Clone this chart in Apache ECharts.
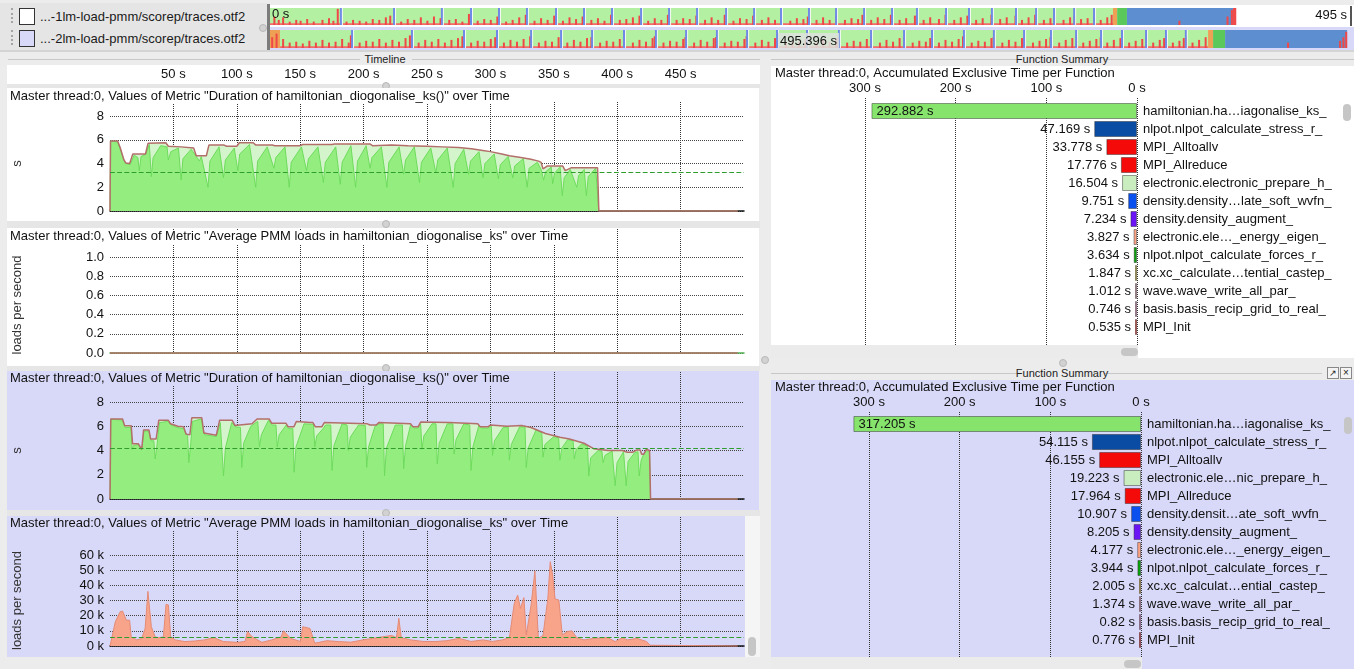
<!DOCTYPE html>
<html><head><meta charset="utf-8">
<script src="https://cdn.jsdelivr.net/npm/echarts@6/dist/echarts.min.js"></script>
<style>
html,body{margin:0;padding:0;width:1354px;height:669px;overflow:hidden;background:#ececec;font-family:'Liberation Sans',Arial,sans-serif;}
.abs{position:absolute;z-index:1;}
.lbl{font-size:13px;line-height:15px;color:#1a1a1a;white-space:nowrap;}
.hdr{font-size:11px;line-height:12px;color:#222;white-space:nowrap;text-align:center;}
.knob{position:absolute;z-index:1;width:6px;height:6px;border-radius:50%;background:#d2d2d2;border:1px solid #b8b8b8;}
.thumb{position:absolute;z-index:1;background:#c6c6c6;border-radius:4px;}
#chart{position:absolute;left:0;top:0;width:1354px;height:669px;z-index:2;}
</style></head>
<body>
<!-- top strip chrome -->
<div class="abs" style="left:0;top:3px;width:267px;height:47px;background:#e5e5e5"></div>
<div class="abs" style="left:11px;top:8px;height:15px;border-left:2px dotted #a4a4a4"></div>
<div class="abs" style="left:11px;top:30px;height:15px;border-left:2px dotted #a4a4a4"></div>
<div class="abs" style="left:19px;top:8px;width:14px;height:15px;background:#fff;border:1px solid #333"></div>
<div class="abs" style="left:19px;top:30px;width:14px;height:15px;background:#d8d8f8;border:1px solid #333"></div>
<div class="abs lbl" style="left:40px;top:9px">...-1lm-load-pmm/scorep/traces.otf2</div>
<div class="abs lbl" style="left:40px;top:31px">...-2lm-load-pmm/scorep/traces.otf2</div>
<div class="knob" style="left:259px;top:24px"></div>
<div class="abs" style="left:267px;top:4px;width:3px;height:46px;background:#7c7c7c"></div>
<div class="abs" style="left:270px;top:5px;width:1084px;height:22px;background:#fff"></div>
<div class="abs" style="left:270px;top:27px;width:1084px;height:23px;background:#d8d8f8"></div>
<div class="abs" style="left:1350px;top:6px;width:2px;height:20px;background:#555"></div>
<div class="abs" style="left:0;top:50px;width:1354px;height:2px;background:#d4d4d4"></div>

<!-- Timeline header -->
<div class="abs" style="left:8px;top:59px;width:352px;height:1px;background:#c8c8c8"></div>
<div class="abs" style="left:412px;top:59px;width:348px;height:1px;background:#c8c8c8"></div>
<div class="abs hdr" style="left:335px;top:53px;width:100px">Timeline</div>

<!-- left panels -->
<div class="abs" style="left:7px;top:65px;width:753px;height:19px;background:#fff"></div>
<div class="abs" style="left:7px;top:84px;width:753px;height:4px;background:#e6e6e6"></div>
<div class="knob" style="left:382px;top:82px"></div>
<div class="abs" style="left:7px;top:88px;width:752px;height:133px;background:#fff"></div>
<div class="abs" style="left:7px;top:221px;width:753px;height:7px;background:#e6e6e6"></div>
<div class="knob" style="left:382px;top:220px"></div>
<div class="abs" style="left:7px;top:228px;width:752px;height:138px;background:#fff"></div>
<div class="abs" style="left:7px;top:366px;width:753px;height:5px;background:#e6e6e6"></div>
<div class="knob" style="left:382px;top:364px"></div>
<div class="abs" style="left:7px;top:371px;width:752px;height:139px;background:#d8d8f8"></div>
<div class="abs" style="left:7px;top:510px;width:753px;height:6px;background:#e6e6e6"></div>
<div class="knob" style="left:382px;top:509px"></div>
<div class="abs" style="left:7px;top:516px;width:738px;height:141px;background:#d8d8f8"></div>
<div class="abs" style="left:745px;top:516px;width:15px;height:141px;background:#f5f5f5"></div>
<div class="thumb" style="left:748px;top:637px;width:8px;height:19px"></div>
<div class="knob" style="left:761px;top:356px"></div>

<!-- right panels -->
<div class="abs" style="left:771px;top:59px;width:250px;height:1px;background:#c8c8c8"></div>
<div class="abs" style="left:1104px;top:59px;width:250px;height:1px;background:#c8c8c8"></div>
<div class="abs hdr" style="left:1012px;top:53px;width:100px">Function Summary</div>
<div class="abs" style="left:771px;top:66px;width:583px;height:279px;background:#fff"></div>
<div class="abs" style="left:771px;top:345px;width:367px;height:13px;background:#ebebeb"></div>
<div class="abs" style="left:1138px;top:345px;width:216px;height:13px;background:#fff"></div>
<div class="thumb" style="left:1121px;top:348px;width:17px;height:8px"></div>
<div class="thumb" style="left:1343px;top:104px;width:8px;height:17px"></div>
<div class="knob" style="left:1059px;top:359px"></div>

<div class="abs" style="left:771px;top:373px;width:250px;height:1px;background:#c8c8c8"></div>
<div class="abs" style="left:1104px;top:373px;width:218px;height:1px;background:#c8c8c8"></div>
<div class="abs hdr" style="left:1012px;top:367px;width:100px">Function Summary</div>
<div class="abs" style="left:1327px;top:367px;width:10px;height:10px;border:1px solid #888;background:#f4f4f4;font-size:9px;line-height:10px;text-align:center;color:#222">&#8599;</div>
<div class="abs" style="left:1340px;top:367px;width:10px;height:10px;border:1px solid #888;background:#f4f4f4;font-size:10px;line-height:10px;text-align:center;color:#222">&#215;</div>
<div class="abs" style="left:771px;top:380px;width:583px;height:277px;background:#d8d8f8"></div>
<div class="abs" style="left:771px;top:657px;width:371px;height:12px;background:#ebebeb"></div>
<div class="abs" style="left:1142px;top:657px;width:212px;height:12px;background:#d8d8f8"></div>
<div class="thumb" style="left:1124px;top:660px;width:17px;height:8px"></div>
<div class="thumb" style="left:1344px;top:417px;width:8px;height:17px"></div>

<div id="chart"></div>
<script>
// ---------------- DATA ----------------
// Overview strip (seconds); blocks: [t0, t1, colourIndex, y0, y1]
const ov1Blocks = [[0,385.6,0,0,1],[0,385.6,4,0,0.1],[385.6,387.5,5,0,1],[387.5,392,1,0,1],[392,440.5,2,0,1],[440.5,442,3,0,1]];
const ov2Blocks = [[0,4.6,5,0,1],[4.6,429.1,0,0,1],[4.6,429.1,4,0,0.1],[429.1,431.4,5,0,1],[431.4,436.9,1,0,1],[436.9,492.7,2,0,1]];
const ov1Seps = [32.9,57.2,79.1,92.4,105.2,118.0,131.3,144.1,156.9,170.2,183.0,195.8,209.1,221.9,234.2,247.0,259.4,272.2,285.0,296.4,309.7,320.2,330.7,341.7,350.9,359.1,368.3,377.4];
const ov2Seps = [38.0,65.4,89.2,104.3,119.9,133.6,147.8,162.4,177.0,190.8,204.9,218.7,232.4,246.1,260.7,275.4,290.5,303.3,317.9,331.6,345.4,357.7,369.2,380.6,390.2,401.2,410.3,419.4];
const ov1Spikes = [[2,0.5],[4,0.3],[6,0.45],[9,0.2],[12,0.3],[14,0.25],[17,0.35],[20,0.2],[24,0.3],[27,0.4],[29,0.25],[31,0.95],[35,0.2],[38,0.3],[41,0.25],[44,0.2],[47,0.35],[50,0.3],[53,0.45],[55,0.55],[60,0.2],[63,0.35],[66,0.3],[69,0.45],[72,0.25],[75,0.5],[78,0.4],[82,0.3],[85,0.35],[88,0.2],[91,0.65],[95,0.25],[98,0.35],[101,0.3],[104,0.5],[108,0.2],[111,0.3],[114,0.45],[117,0.6],[121,0.25],[124,0.4],[127,0.3],[130,0.55],[134,0.25],[137,0.45],[140,0.35],[143,0.5],[147,0.3],[150,0.4],[153,0.25],[156,0.6],[160,0.3],[163,0.35],[166,0.45],[169,0.55],[173,0.25],[176,0.4],[179,0.3],[182,0.6],[186,0.3],[189,0.4],[192,0.35],[195,0.55],[199,0.3],[202,0.45],[205,0.3],[208,0.6],[212,0.25],[215,0.4],[218,0.35],[221,0.55],[225,0.3],[228,0.45],[231,0.3],[234,0.6],[238,0.25],[241,0.4],[244,0.35],[246,0.5],[250,0.3],[253,0.45],[256,0.3],[259,0.55],[263,0.3],[266,0.4],[269,0.35],[271,0.6],[275,0.3],[278,0.45],[281,0.35],[284,0.6],[288,0.3],[291,0.4],[295,0.55],[299,0.3],[302,0.45],[306,0.35],[309,0.6],[313,0.3],[316,0.45],[319,0.55],[323,0.3],[326,0.4],[330,0.6],[334,0.35],[337,0.45],[341,0.55],[344,0.3],[347,0.45],[350,0.6],[354,0.3],[357,0.4],[359,0.55],[363,0.3],[366,0.45],[368,0.55],[371,0.35],[374,0.4],[377,0.5],[380,0.3],[383,0.45],[385,0.6],[416,0.25],[438,0.5],[440,0.9]];
const ov2Spikes = [[1,0.6],[3,0.8],[6,0.5],[9,0.3],[12,0.35],[15,0.25],[18,0.4],[21,0.3],[24,0.45],[27,0.3],[30,0.35],[33,0.5],[36,0.3],[37,0.7],[41,0.3],[44,0.4],[47,0.35],[50,0.5],[53,0.3],[56,0.45],[59,0.35],[62,0.55],[64,0.7],[68,0.3],[71,0.45],[74,0.35],[77,0.5],[80,0.3],[83,0.45],[86,0.55],[88,0.65],[92,0.3],[95,0.4],[98,0.35],[101,0.5],[103,0.6],[107,0.3],[110,0.45],[113,0.35],[116,0.5],[119,0.65],[123,0.3],[126,0.4],[129,0.35],[132,0.6],[136,0.3],[139,0.45],[142,0.35],[145,0.55],[147,0.6],[151,0.3],[154,0.4],[157,0.35],[160,0.5],[162,0.6],[166,0.3],[169,0.45],[172,0.35],[175,0.55],[176,0.65],[180,0.3],[183,0.4],[186,0.35],[189,0.5],[190,0.6],[194,0.3],[197,0.45],[200,0.35],[203,0.55],[204,0.6],[208,0.3],[211,0.4],[214,0.35],[217,0.5],[218,0.65],[222,0.3],[225,0.45],[228,0.35],[231,0.55],[232,0.6],[236,0.3],[239,0.4],[242,0.35],[245,0.5],[246,0.65],[250,0.3],[253,0.45],[256,0.35],[259,0.55],[260,0.6],[264,0.3],[267,0.4],[270,0.35],[273,0.5],[275,0.65],[279,0.3],[282,0.45],[285,0.35],[288,0.55],[290,0.6],[294,0.3],[297,0.4],[300,0.35],[302,0.55],[306,0.3],[309,0.45],[312,0.35],[315,0.5],[317,0.65],[321,0.3],[324,0.4],[327,0.35],[330,0.55],[331,0.6],[335,0.3],[338,0.45],[341,0.35],[344,0.55],[345,0.6],[349,0.3],[352,0.4],[355,0.5],[357,0.6],[361,0.3],[364,0.45],[367,0.55],[369,0.6],[372,0.3],[375,0.4],[378,0.5],[380,0.6],[383,0.3],[386,0.45],[389,0.55],[390,0.6],[393,0.3],[396,0.4],[399,0.5],[401,0.6],[404,0.3],[407,0.45],[409,0.55],[410,0.6],[413,0.3],[416,0.4],[418,0.55],[419,0.6],[422,0.3],[425,0.45],[428,0.6],[465.7,0.3],[489.5,0.4],[491,0.6],[492.3,0.9]];
const ovColors = ['#b3f0a2','#5ac85a','#5d8fd0','#f04a4a','#f26a6a','#eea055'];

// Duration of hamiltonian_diogonalise_ks() [s] -- trace 1
const dur1Max = [[0,0],[0.4,5.9],[6,5.9],[8,5.35],[11,4.3],[12.5,4.05],[15.5,4.0],[18,4.8],[28,4.8],[30,5.7],[44,5.75],[46,5.45],[56,5.4],[66,5.3],[68,4.65],[76,4.65],[78,5.55],[90,5.55],[92,5.45],[100,5.45],[102,5.75],[113,5.75],[115,5.55],[128,5.55],[130,5.5],[150,5.5],[152,5.6],[175,5.6],[177,5.65],[205,5.65],[207,5.5],[222,5.55],[235,5.5],[250,5.45],[262,5.4],[275,5.35],[285,5.25],[294,5.1],[300,5.0],[309,4.8],[315,4.65],[324,4.5],[332,4.35],[338,4.2],[340,4.1],[341.5,3.55],[345,3.8],[357,3.8],[359,3.4],[364,3.65],[384.5,3.65],[385.5,0],[495,0]];
const dur1Avg = [[0,0],[0.5,5.9],[6,5.8],[9,4.9],[12,4.0],[16,3.9],[19,4.7],[22,4.5],[23.1,3.4],[24.5,4.6],[28,4.75],[31,5.6],[32.6,2.9],[34,4.5],[40,5.5],[45,5.4],[46,4.3],[48,5.0],[54,5.3],[56.1,2.6],[57.5,4.4],[64,5.2],[68,4.6],[70.5,4.2],[72,4.6],[77.3,2.0],[78.8,4.2],[86,5.4],[89.5,2.8],[91,4.3],[98,5.3],[100.8,3.4],[102.3,4.8],[110,5.6],[114.9,2.0],[116.4,4.2],[124,5.4],[129.3,3.6],[130.8,4.5],[138,5.4],[141.4,2.0],[142.9,4.1],[151,5.4],[155,3.4],[156.5,4.4],[164,5.4],[168.3,2.4],[169.8,4.1],[178,5.4],[181.6,2.25],[183.1,4.1],[190,5.5],[193.7,2.0],[195.2,4.2],[202,5.5],[205.1,3.6],[206.6,4.5],[214,5.4],[218.4,2.0],[219.9,4.1],[228,5.4],[231.6,3.1],[233.1,4.3],[240,5.4],[244.1,2.4],[245.6,4.1],[253,5.3],[257,3.2],[258.5,4.3],[266,5.3],[270.7,2.0],[272.2,4.0],[279,5.2],[282.8,3.1],[284.3,4.2],[291,5.0],[294.2,2.8],[295.7,4.0],[303,4.8],[306.3,2.7],[307.8,3.9],[314,4.6],[317.7,2.8],[319.2,3.8],[326,4.4],[329,2.0],[330.5,3.6],[337,4.1],[340,3.5],[342,2.6],[343.5,3.3],[348,3.7],[349.1,2.3],[350.6,3.2],[355,3.7],[356.7,1.3],[358.2,2.8],[363,3.5],[368.1,2.0],[369.6,3.0],[374,3.5],[375.7,1.3],[377.2,2.9],[383,3.6],[385.5,0],[495,0]];
const dur1Mean = 3.3;

// Average PMM loads -- trace 1 (all zero)
const pmm1 = [[0,0],[495,0]];

// Duration -- trace 2
const dur2Max = [[0,0],[0.6,6.6],[9.9,6.6],[11.5,6.05],[16.7,6.05],[17.8,4.55],[22.4,4.55],[25,4.1],[26.5,5.7],[30.7,5.7],[32,4.95],[36.4,4.95],[38.5,6.5],[45.9,6.5],[47.8,6.2],[53.4,6.0],[58,5.95],[60,5.35],[63,5.3],[64.5,6.7],[72.4,6.7],[74,5.45],[83.8,5.25],[86.5,6.5],[96.3,6.5],[98.5,6.07],[112,6.2],[116,6.6],[125.5,6.6],[127.4,6.25],[138.7,6.25],[140.5,5.95],[145,5.95],[147,6.4],[157.7,6.3],[160,6.3],[162,5.95],[167,5.95],[169,6.3],[203,6.2],[205,6.1],[210,6.1],[212,6.3],[237,6.2],[239,5.95],[243,5.95],[245,6.35],[267.6,6.3],[290,6.2],[292,5.95],[298,5.95],[300,6.1],[313,6.0],[324.5,6.07],[332,5.9],[343.4,5.4],[354.8,5.1],[362.4,4.95],[373.8,4.6],[381.4,4.15],[392.7,4.0],[404.1,4.0],[407.9,3.85],[412,3.85],[415.5,4.05],[418,4.05],[419.3,3.7],[421,3.7],[423,4.1],[425.5,4.0],[426.3,0],[495,0]];
const dur2Avg = [[0,0],[0.6,6.6],[9.5,6.5],[12,5.9],[16.5,5.9],[17.4,4.1],[18.5,4.4],[22,4.5],[25,4.05],[26.8,5.6],[30.5,5.6],[32.5,4.8],[34.6,4.8],[35.6,3.3],[37,4.4],[39,6.3],[45.5,6.4],[48,6.1],[53,5.9],[58,5.8],[61.2,5.2],[62.2,3.0],[63.7,4.6],[65,6.4],[72,6.6],[74.5,5.3],[84,5.15],[87,6.3],[88.5,6.3],[89.5,1.9],[91,4.2],[96,6.3],[99,5.95],[102.9,5.9],[103.9,2.6],[105.4,4.6],[111,6.0],[116.5,6.4],[117.9,4.3],[119.4,5.3],[125,6.5],[128,6.1],[130.9,6.1],[131.9,4.3],[133.4,5.3],[139,6.1],[141,5.8],[144.2,5.8],[145.2,2.2],[146.7,4.3],[153,6.2],[160.5,6.15],[161.5,4.3],[163,5.2],[168,5.8],[170,6.1],[174.1,6.1],[175.1,2.35],[176.6,4.4],[183,6.2],[187,6.1],[188,4.0],[189.5,5.1],[196,6.1],[201.4,6.05],[202.4,2.6],[203.9,4.3],[209,6.0],[212,6.2],[215.5,6.2],[216.5,1.9],[218,4.2],[225,6.1],[230.6,6.1],[231.6,2.5],[233.1,4.4],[237,6.1],[240,5.85],[243,5.85],[245,6.2],[246,4.1],[247.5,5.2],[254,6.2],[257.1,6.2],[258.1,2.9],[259.6,4.6],[266,6.2],[270.4,6.2],[271.4,3.7],[272.9,4.9],[279,6.2],[283.7,6.1],[284.7,2.35],[286.2,4.3],[291,6.1],[293,5.85],[298,5.85],[300.7,6.0],[301.7,3.6],[303.2,4.8],[310,5.9],[314,5.95],[315,3.2],[316.5,4.5],[323,5.95],[327.3,5.95],[328.3,2.6],[329.8,4.2],[336,5.7],[340.5,5.45],[341.5,3.45],[343,4.5],[350,5.15],[353.8,5.05],[354.8,3.2],[356.3,4.2],[361,4.9],[365.2,4.8],[366.2,3.3],[367.7,4.1],[372,4.55],[376.6,4.35],[377.6,1.9],[379.1,3.4],[385,4.0],[387.9,3.95],[388.9,3.0],[390.4,3.6],[396,3.95],[397.4,3.9],[398.4,1.1],[399.9,3.0],[405,3.9],[406.1,3.8],[407.1,1.1],[408.6,3.1],[414,3.85],[416.4,3.9],[417.4,1.9],[418.9,3.2],[420.5,3.6],[423,4.0],[425.5,3.9],[426.3,0],[495,0]];
const dur2Mean = 4.22;

// Average PMM loads -- trace 2 [loads per second]
const pmm2 = [[0,0],[1.5,500],[4.2,16000],[8,22600],[9.9,23000],[12.9,17000],[15.5,17000],[16.7,6000],[21.2,4000],[25,5000],[27.7,11600],[29.9,36000],[32.6,12700],[35.6,6000],[38.3,5500],[42.1,6000],[44.2,27500],[46.1,27000],[47.8,6000],[51.6,4000],[59.1,2900],[66.7,3300],[74.3,4000],[81.9,5500],[89.5,2900],[100.8,2400],[106.5,3000],[108.4,9500],[112.2,6000],[119.8,2400],[127.4,4000],[134.9,6000],[136.8,10000],[142.5,5000],[150.1,3000],[152,12700],[157.7,11600],[161.5,1800],[171,3500],[180.4,2900],[189.9,2500],[199.4,4000],[207,5000],[214.6,6000],[222.1,7000],[225.9,5500],[227.8,18200],[229.7,5500],[237.3,4000],[246.8,3000],[256.3,2900],[265.7,3500],[275.2,5000],[284.7,3000],[294.2,4000],[301.7,3000],[309.3,4000],[315,5500],[318.8,28000],[321.5,33600],[323.7,24800],[326.4,31900],[328.3,7300],[332.1,27000],[335.1,49500],[337.8,5000],[341.5,7000],[345.3,31400],[347.2,55600],[349.1,46800],[351,31000],[354,30300],[356.7,7300],[360.5,9500],[364.3,10000],[368.1,5500],[373.8,4000],[381.4,5000],[392.7,5500],[398.4,2900],[404.1,5500],[407.9,4000],[415.5,5000],[423,3000],[426,500],[427,0],[495,0]];
const pmm2Mean = 5500;

// Function summaries [s]
const fs1Names = ['hamiltonian.ha\u2026iagonalise_ks_','nlpot.nlpot_calculate_stress_r_','MPI_Alltoallv','MPI_Allreduce','electronic.electronic_prepare_h_','density.density\u2026late_soft_wvfn_','density.density_augment_','electronic.ele\u2026_energy_eigen_','nlpot.nlpot_calculate_forces_r_','xc.xc_calculate\u2026tential_castep_','wave.wave_write_all_par_','basis.basis_recip_grid_to_real_','MPI_Init'];
const fs1Values = [292.882,47.169,33.778,17.776,16.504,9.751,7.234,3.827,3.634,1.847,1.012,0.746,0.535];
const fs1Colors = ['#86e46c','#0a4ca4','#f50a0a','#f50a0a','#c9edbf','#0a50ee','#6a14f5','#fca285','#0aa00a','#d6aa10','#d98aa5','#e07fc0','#ee0a0a'];
const fs2Names = ['hamiltonian.ha\u2026iagonalise_ks_','nlpot.nlpot_calculate_stress_r_','MPI_Alltoallv','electronic.ele\u2026nic_prepare_h_','MPI_Allreduce','density.densit\u2026ate_soft_wvfn_','density.density_augment_','electronic.ele\u2026_energy_eigen_','nlpot.nlpot_calculate_forces_r_','xc.xc_calculat\u2026ential_castep_','wave.wave_write_all_par_','basis.basis_recip_grid_to_real_','MPI_Init'];
const fs2Values = [317.205,54.115,46.155,19.223,17.964,10.907,8.205,4.177,3.944,2.005,1.374,0.82,0.776];
const fs2Colors = ['#86e46c','#0a4ca4','#f50a0a','#c9edbf','#f50a0a','#0a50ee','#6a14f5','#fca285','#0aa00a','#d6aa10','#d98aa5','#e07fc0','#ee0a0a'];

// ---------------- CHART ----------------
const FONT = "'Liberation Sans', Arial, sans-serif";
const LAV = '#d8d8f8';
const chart = echarts.init(document.getElementById('chart'), null, {renderer:'canvas'});

function G(left, top, width, height){ return {left, top, width, height, containLabel:false, outerBoundsMode:'none'}; }
const grids = [
  G(270,8,1083,17),   // 0 overview row1
  G(270,30,1083,18),  // 1 overview row2
  G(110,84,634,1),    // 2 timeline axis
  G(110,102,634,109), // 3 c1 vlines
  G(110,116,634,95),  // 4 c1 data
  G(110,229,634,124), // 5 c2 vlines
  G(110,257,634,96),  // 6 c2 data
  G(110,372,634,127), // 7 c3 vlines
  G(110,402,634,97),  // 8 c3 data
  G(110,517,634,129), // 9 c4 vlines
  G(110,555,634,91),  // 10 c4 data
  G(865,98,272,247),  // 11 fs1 helper
  G(865,102,272,234), // 12 fs1 bars
  G(869,412,272,245), // 13 fs2 helper
  G(869,415,272,234)  // 14 fs2 bars
];
const hidden = {show:false};
const xAxes = [], yAxes = [];
for (let i=0;i<2;i++){ xAxes.push({gridIndex:i,type:'value',min:0,max:495.4,show:false}); yAxes.push({gridIndex:i,type:'value',min:0,max:1,show:false}); }
xAxes.push({gridIndex:2,type:'value',min:0,max:500,interval:50,position:'top',axisLine:hidden,axisTick:hidden,splitLine:hidden,
  axisLabel:{margin:3,fontSize:13,color:'#111',fontFamily:FONT,formatter:v=>(v>0&&v<500)?v+' s':''}});
yAxes.push({gridIndex:2,type:'value',show:false});
function vAxes(gi){
  xAxes.push({gridIndex:gi,type:'value',min:0,max:500,interval:50,axisLine:hidden,axisTick:hidden,axisLabel:hidden,
    splitLine:{show:true,showMinLine:false,showMaxLine:false,lineStyle:{type:'dotted',color:'#333',width:1}}});
  yAxes.push({gridIndex:gi,type:'value',min:0,max:1,show:false});
}
function dAxes(gi, ymax, yint, fmt, name, lineColor, lineWidth){
  xAxes.push({gridIndex:gi,type:'value',min:0,max:500,axisLabel:hidden,axisTick:hidden,splitLine:hidden,
    axisLine:{show:true,onZero:false,lineStyle:{color:lineColor,width:lineWidth}}});
  yAxes.push({gridIndex:gi,type:'value',min:0,max:ymax,interval:yint,axisLine:hidden,axisTick:hidden,
    splitLine:{show:true,lineStyle:{type:'dotted',color:'#444',width:1}},
    axisLabel:{margin:6,fontSize:13,color:'#111',fontFamily:FONT,formatter:fmt},
    name:name,nameLocation:'middle',nameGap:86,nameTextStyle:{fontSize:13,color:'#333',fontFamily:FONT}});
}
vAxes(3); dAxes(4, 8, 2, v=>String(v), 's', '#111', 1.5);
vAxes(5); dAxes(6, 1, 0.2, v=>v.toFixed(1), 'loads per second', '#4fb04f', 1.5);
vAxes(7); dAxes(8, 8, 2, v=>String(v), 's', '#111', 1.5);
vAxes(9); dAxes(10, 60000, 10000, v=>(v/1000)+' k', 'loads per second', '#111', 1.5);
function fsAxes(hg, bg, names){
  xAxes.push({gridIndex:hg,type:'value',inverse:true,min:0,max:300,interval:100,position:'top',axisLine:hidden,axisTick:hidden,
    axisLabel:{margin:3,fontSize:13,color:'#111',fontFamily:FONT,formatter:v=>v+' s'},
    splitLine:{show:true,showMinLine:true,showMaxLine:true,lineStyle:{type:'dotted',color:'#333',width:1}}});
  yAxes.push({gridIndex:hg,type:'value',min:0,max:1,show:false});
  xAxes.push({gridIndex:bg,type:'value',inverse:true,min:0,max:300,show:false});
  yAxes.push({gridIndex:bg,type:'category',data:names,inverse:true,position:'right',axisLine:hidden,axisTick:hidden,splitLine:hidden,
    axisLabel:{margin:6,fontSize:13,color:'#111',fontFamily:FONT}});
}
fsAxes(11,12,fs1Names);
fsAxes(13,14,fs2Names);

function blockItem(params, api){
  const p0 = api.coord([api.value(0), api.value(4)]);
  const p1 = api.coord([api.value(1), api.value(3)]);
  return {type:'rect', shape:{x:p0[0], y:p0[1], width:Math.max(p1[0]-p0[0],1), height:p1[1]-p0[1]},
          style:{fill: ovColors[api.value(2)]}};
}
function spikeItem(params, api){
  const p0 = api.coord([api.value(0), api.value(1)]);
  const p1 = api.coord([api.value(0), 0]);
  return {type:'rect', shape:{x:p0[0]-1, y:p0[1], width:2, height:p1[1]-p0[1]}, style:{fill:'#f04848'}};
}
function sepItem(params, api){
  const top = api.coord([api.value(0), 1]);
  const bot = api.coord([api.value(0), 0]);
  return {type:'group', children:[
    {type:'rect', shape:{x:top[0]-2, y:top[1], width:2, height:bot[1]-top[1]}, style:{fill:'#6f8ae6'}},
    {type:'rect', shape:{x:top[0], y:top[1], width:1, height:bot[1]-top[1]}, style:{fill:'#f4f8f2'}}
  ]};
}
function ovSeries(i, blocks, spikes, seps){
  return [
    {type:'custom', xAxisIndex:i, yAxisIndex:i, renderItem:blockItem, data:blocks, z:1, silent:true},
    {type:'custom', xAxisIndex:i, yAxisIndex:i, renderItem:spikeItem, data:spikes, z:2, silent:true},
    {type:'custom', xAxisIndex:i, yAxisIndex:i, renderItem:sepItem, data:seps.map(t=>[t]), z:3, silent:true}
  ];
}
const meanLine = v => ({silent:true, symbol:['none','none'], label:{show:false},
  lineStyle:{type:'dashed', color:'#2e9d2e', width:1.2}, data:[{yAxis:v}]});
function durSeries(ai, maxData, avgData, mean){
  return [
    {type:'line', xAxisIndex:ai, yAxisIndex:ai, data:maxData, symbol:'none', lineStyle:{width:0}, areaStyle:{color:'#d4f4cc', opacity:1}, z:2, silent:true},
    {type:'line', xAxisIndex:ai, yAxisIndex:ai, data:avgData, symbol:'none', lineStyle:{color:'#6edb5c', width:1}, areaStyle:{color:'#93ee7f', opacity:1}, z:3, silent:true},
    {type:'line', xAxisIndex:ai, yAxisIndex:ai, data:maxData, symbol:'none', clip:false, lineStyle:{color:'#b36f6a', width:1.5}, z:4, silent:true, markLine:meanLine(mean)}
  ];
}
function fsSeries(ai, vals, colors){
  return {type:'bar', xAxisIndex:ai, yAxisIndex:ai, barWidth:16, clip:false, barMinHeight:2, silent:true,
    data: vals.map((v,i)=>({value:v, itemStyle:{color:colors[i]},
      label: i===0 ? {position:'insideLeft', distance:5} : {position:'left', distance:4}})),
    itemStyle:{borderColor:'rgba(40,40,40,0.45)', borderWidth:1},
    label:{show:true, fontSize:13, color:'#111', fontFamily:FONT, formatter:p=>p.value+' s'}};
}

const titleStyle = {fontSize:13, fontWeight:'normal', color:'#111', fontFamily:FONT};
const option = {
  animation:false,
  textStyle:{fontFamily:FONT},
  grid: grids,
  xAxis: xAxes,
  yAxis: yAxes,
  title: [
    {text:'Master thread:0, Values of Metric "Duration of hamiltonian_diogonalise_ks()" over Time', left:8, top:90, padding:[0,2,1,2], backgroundColor:'#fff', textStyle:titleStyle},
    {text:'Master thread:0, Values of Metric "Average PMM loads in hamiltonian_diogonalise_ks" over Time', left:8, top:230, padding:[0,2,1,2], backgroundColor:'#fff', textStyle:titleStyle},
    {text:'Master thread:0, Values of Metric "Duration of hamiltonian_diogonalise_ks()" over Time', left:8, top:372, padding:[0,2,1,2], backgroundColor:LAV, textStyle:titleStyle},
    {text:'Master thread:0, Values of Metric "Average PMM loads in hamiltonian_diogonalise_ks" over Time', left:8, top:517, padding:[0,2,1,2], backgroundColor:LAV, textStyle:titleStyle},
    {text:'Master thread:0, Accumulated Exclusive Time per Function', left:773, top:67, padding:[0,2], textStyle:titleStyle},
    {text:'Master thread:0, Accumulated Exclusive Time per Function', left:773, top:381, padding:[0,2], textStyle:titleStyle}
  ],
  graphic: [
    {type:'text', left:272, top:8, z:100, style:{text:'0 s', font:'13px '+FONT, fill:'#111'}},
    {type:'text', right:7, top:9, z:100, style:{text:'495 s', font:'13px '+FONT, fill:'#111'}},
    {type:'text', left:778, top:33, z:100, style:{text:'495.396 s', font:'13px '+FONT, fill:'#111', backgroundColor:'rgba(222,226,222,0.85)', padding:[2,2]}}
  ],
  series: [].concat(
    ovSeries(0, ov1Blocks, ov1Spikes, ov1Seps),
    ovSeries(1, ov2Blocks, ov2Spikes, ov2Seps),
    durSeries(4, dur1Max, dur1Avg, dur1Mean),
    [{type:'line', xAxisIndex:6, yAxisIndex:6, data:pmm1, symbol:'none', clip:false, lineStyle:{color:'#b36f6a', width:1.5}, z:10, silent:true}],
    durSeries(8, dur2Max, dur2Avg, dur2Mean),
    [{type:'line', xAxisIndex:10, yAxisIndex:10, data:pmm2, symbol:'none', clip:false, lineStyle:{color:'#e48a75', width:1}, areaStyle:{color:'#f8a48a', opacity:1}, z:3, silent:true, markLine:meanLine(pmm2Mean)}],
    [fsSeries(12, fs1Values, fs1Colors), fsSeries(14, fs2Values, fs2Colors)]
  )
};
chart.setOption(option);
</script>
</body></html>
